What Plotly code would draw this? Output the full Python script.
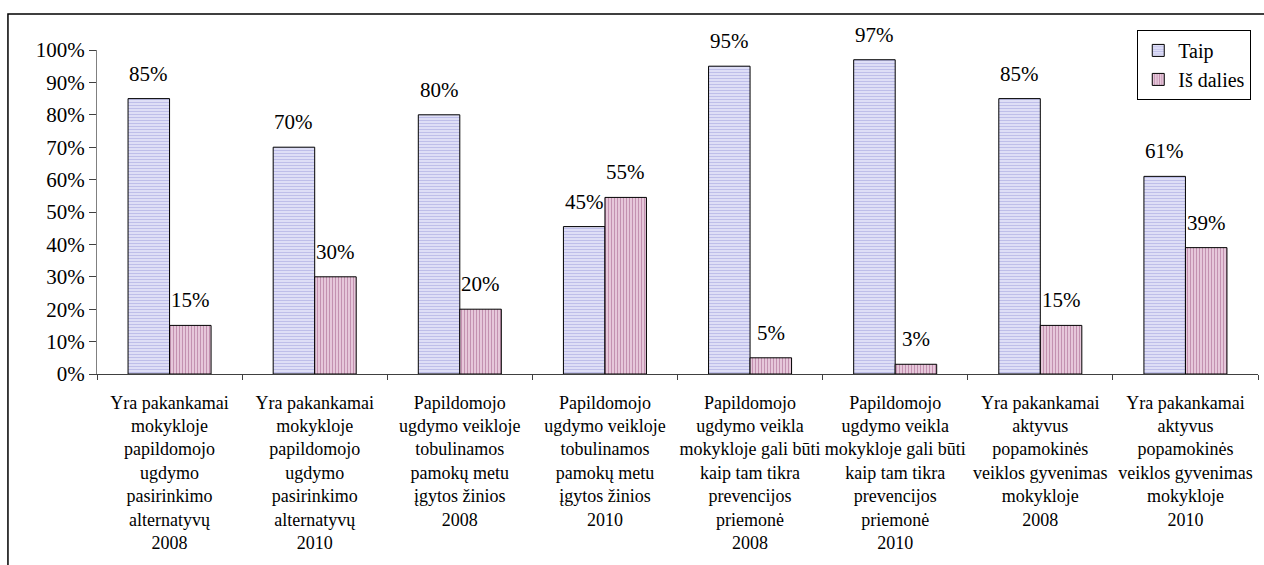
import plotly.graph_objects as go

categories = [
    "Yra pakankamai<br>mokykloje<br>papildomojo<br>ugdymo<br>pasirinkimo<br>alternatyvų<br>2008",
    "Yra pakankamai<br>mokykloje<br>papildomojo<br>ugdymo<br>pasirinkimo<br>alternatyvų<br>2010",
    "Papildomojo<br>ugdymo veikloje<br>tobulinamos<br>pamokų metu<br>įgytos žinios<br>2008",
    "Papildomojo<br>ugdymo veikloje<br>tobulinamos<br>pamokų metu<br>įgytos žinios<br>2010",
    "Papildomojo<br>ugdymo veikla<br>mokykloje gali būti<br>kaip tam tikra<br>prevencijos<br>priemonė<br>2008",
    "Papildomojo<br>ugdymo veikla<br>mokykloje gali būti<br>kaip tam tikra<br>prevencijos<br>priemonė<br>2010",
    "Yra pakankamai<br>aktyvus<br>popamokinės<br>veiklos gyvenimas<br>mokykloje<br>2008",
    "Yra pakankamai<br>aktyvus<br>popamokinės<br>veiklos gyvenimas<br>mokykloje<br>2010",
]
taip = [0.85, 0.70, 0.80, 0.455, 0.95, 0.97, 0.85, 0.61]
taip_labels = ["85%", "70%", "80%", "45%", "95%", "97%", "85%", "61%"]
is_dalies = [0.15, 0.30, 0.20, 0.545, 0.05, 0.03, 0.15, 0.39]
is_dalies_labels = ["15%", "30%", "20%", "55%", "5%", "3%", "15%", "39%"]

FONT = "Liberation Serif, DejaVu Serif, serif"

fig = go.Figure()
fig.add_trace(go.Bar(
    x=categories, y=taip, name="Taip",
    marker=dict(color="#dcdcf6", line=dict(color="black", width=1),
                pattern=dict(shape="-", fgcolor="#9898da", bgcolor="#e4e4f8",
                             size=3, solidity=0.45)),
))
fig.add_trace(go.Bar(
    x=categories, y=is_dalies, name="Iš dalies",
    marker=dict(color="#e6c6da", line=dict(color="black", width=1),
                pattern=dict(shape="|", fgcolor="#9a4f7e", bgcolor="#ecd2e2",
                             size=3, solidity=0.45)),
))

# value labels above the bars
for cat, v, lab in zip(categories, taip, taip_labels):
    fig.add_annotation(x=cat, y=v, text=lab, showarrow=False, xshift=-20.8,
                       yshift=25, yanchor="middle",
                       font=dict(family=FONT, size=21, color="black"))
for cat, v, lab in zip(categories, is_dalies, is_dalies_labels):
    fig.add_annotation(x=cat, y=v, text=lab, showarrow=False, xshift=20.8,
                       yshift=25, yanchor="middle",
                       font=dict(family=FONT, size=21, color="black"))

# outer frame
fig.add_shape(type="rect", xref="paper", yref="paper",
              x0=-0.0767, x1=1.05, y0=-0.62, y1=1.111,
              line=dict(color="black", width=1.5))

fig.update_layout(
    width=1264, height=565,
    barmode="group", bargap=0.428, bargroupgap=0,
    plot_bgcolor="white", paper_bgcolor="white",
    font=dict(family=FONT, color="black"),
    margin=dict(l=97, r=6, t=50, b=191),
    showlegend=True,
    legend=dict(x=0.896, y=1.062, xanchor="left", yanchor="top",
                bordercolor="black", borderwidth=1, bgcolor="white",
                font=dict(family=FONT, size=20), tracegroupgap=4),
)
fig.update_yaxes(range=[0, 1], dtick=0.1, tickformat=".0%", showgrid=False,
                 zeroline=False, showline=True, linecolor="#808080",
                 ticks="outside", ticklen=7, tickcolor="#404040",
                 automargin=False,
                 tickfont=dict(family=FONT, size=21, color="black"))
fig.update_xaxes(showline=True, linecolor="#404040", showgrid=False,
                 ticks="outside", ticklen=5, tickcolor="#404040",
                 tickson="boundaries", tickangle=0, automargin=False,
                 ticklabelstandoff=12,
                 tickfont=dict(family=FONT, size=18, color="black"))

fig.write_html("out.html", config={"displayModeBar": False},
               post_script="document.body.style.margin='0';")
